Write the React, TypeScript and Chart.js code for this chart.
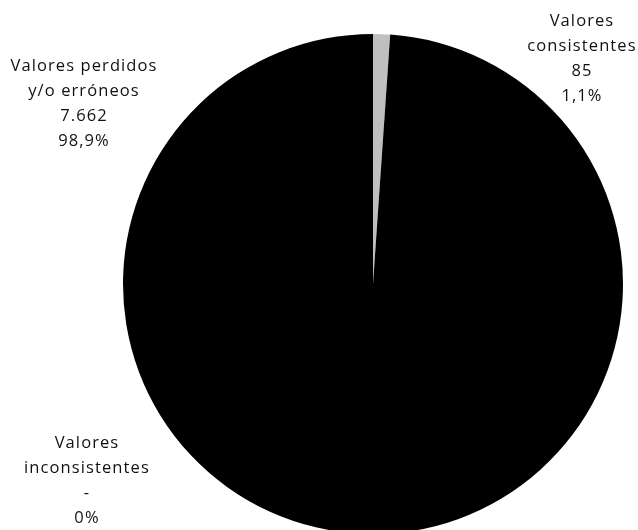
import React, { useEffect, useRef } from "react";
import { Chart, registerables } from "chart.js";

Chart.register(...registerables);

const categories: string[][] = [
  ["Valores", "consistentes"],
  ["Valores perdidos", "y/o erróneos"],
  ["Valores", "inconsistentes"],
];
const values: number[] = [85, 7662, 0];
const colors: string[] = ["#bfbfbf", "#000000", "#7f7f7f"];
// label anchor (center x, first-line center y)
const labelAnchors: [number, number][] = [
  [582, 21],
  [84, 66],
  [87, 443],
];

function fmtThousands(n: number): string {
  if (n === 0) return "-";
  return String(n).replace(/\B(?=(\d{3})+(?!\d))/g, ".");
}
function fmtPct(n: number, total: number): string {
  if (n === 0) return "0%";
  return ((n / total) * 100).toFixed(1).replace(".", ",") + "%";
}

const labelPlugin = {
  id: "pieLabels",
  afterDraw(chart: any) {
    const ctx = chart.ctx as CanvasRenderingContext2D;
    const total = values.reduce((a, b) => a + b, 0);
    ctx.save();
    ctx.fillStyle = "#111111";
    ctx.font = '16.5px "Open Sans", sans-serif';
    (ctx as any).letterSpacing = "1.1px";
    ctx.textAlign = "center";
    ctx.textBaseline = "middle";
    const lh = 25;
    values.forEach((v, i) => {
      const lines = [...categories[i], fmtThousands(v), fmtPct(v, total)];
      const [x, y] = labelAnchors[i];
      lines.forEach((t, j) => ctx.fillText(t, x, y + j * lh));
    });
    ctx.restore();
  },
};

export default function App() {
  const ref = useRef<HTMLCanvasElement | null>(null);
  useEffect(() => {
    document.body.style.margin = "0";
    const chart = new Chart(ref.current!, {
      type: "pie",
      data: {
        labels: categories.map((c) => c.join(" ")),
        datasets: [
          {
            data: values,
            backgroundColor: colors,
            borderWidth: 0,
          },
        ],
      },
      options: {
        animation: false,
        responsive: false,
        maintainAspectRatio: false,
        layout: { padding: { left: 123, right: 15, top: 34, bottom: 34 } },
        plugins: {
          legend: { display: false },
          tooltip: { enabled: false },
        },
      },
      plugins: [labelPlugin],
    });
    return () => chart.destroy();
  }, []);
  return (
    <div style={{ position: "fixed", left: 0, top: 0, width: 638, height: 530, overflow: "hidden", background: "#fff" }}>
      <canvas ref={ref} width={638} height={568} style={{ display: "block" }} />
    </div>
  );
}
